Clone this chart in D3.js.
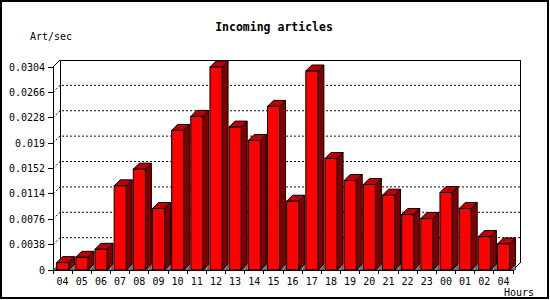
<!DOCTYPE html>
<meta charset="utf-8">
<style>
body { margin: 0; background: #fff; }
text { font-family: "DejaVu Sans Mono", monospace; font-size: 10px; fill: #000; }
.title { font-size: 11.5px; font-weight: bold; }
</style>
<svg width="550" height="300"></svg>
<script src="https://d3js.org/d3.v7.min.js"></script>
<script>

var hours = ["04","05","06","07","08","09","10","11","12","13","14","15",
             "16","17","18","19","20","21","22","23","00","01","02","04"];
var rate = [0.0011, 0.0019, 0.0031, 0.0126, 0.0151, 0.0092, 0.0209, 0.0230,
            0.0304, 0.0214, 0.0194, 0.0245, 0.0103, 0.0298, 0.0167, 0.0134,
            0.0128, 0.0112, 0.0083, 0.0077, 0.0116, 0.0092, 0.0050, 0.0039];
var yTicks = [0, 0.0038, 0.0076, 0.0114, 0.0152, 0.019, 0.0228, 0.0266, 0.0304];

var svg = d3.select("svg"),
  x0Plot = 53, x1Plot = 513, yBase = 270, yTop = 67,
  depth = 7,      // 3d offset of the back wall
  bdepth = 6;     // 3d offset of the bars

var x = d3.scaleBand().domain(d3.range(hours.length)).range([x0Plot, x1Plot]);
var y = d3.scaleLinear().domain([0, 0.0304]).range([yBase, yTop]);

// outer frame
svg.append("rect")
  .attr("x", 1).attr("y", 1).attr("width", 547).attr("height", 297)
  .attr("fill", "none").attr("stroke", "#000").attr("stroke-width", 2);

// back wall
svg.append("path")
  .attr("d", "M" + (x0Plot + depth) + "," + (yBase - depth) +
             "V" + (yTop - depth) + "H" + (x1Plot + depth) + "V" + (yBase - depth))
  .attr("fill", "none").attr("stroke", "#000").attr("shape-rendering", "crispEdges");

// dotted grid, running from the front axis up onto the back wall
svg.append("g").selectAll("path")
  .data(yTicks.filter(function(d) { return d > 0 && d < 0.0304; }))
  .enter().append("path")
    .attr("d", function(d) {
      return "M" + x0Plot + "," + y(d) + "L" + (x0Plot + depth) + "," + (y(d) - depth) +
             "H" + (x1Plot + depth);
    })
    .attr("fill", "none").attr("stroke", "#000").attr("stroke-dasharray", "2,2");

// top corner diagonal
svg.append("line")
  .attr("x1", x0Plot).attr("y1", y(0.0304))
  .attr("x2", x0Plot + depth).attr("y2", y(0.0304) - depth)
  .attr("stroke", "#000");

// floor shadow corners
svg.append("path")
  .attr("d", "M" + x0Plot + "," + yBase + "L" + (x0Plot + depth) + "," + (yBase - depth) +
             "V" + yBase + "Z")
  .attr("fill", "#808080").attr("stroke", "#000").attr("stroke-width", 0.5);
svg.append("path")
  .attr("d", "M" + x1Plot + "," + yBase + "L" + (x1Plot + depth) + "," + (yBase - depth))
  .attr("stroke", "#000");

// bars
var bw = x.bandwidth();
var bars = svg.append("g").selectAll("g")
  .data(rate)
  .enter().append("g");

bars.each(function(v, i) {
  var g = d3.select(this),
    bx0 = x(i) + bw * 0.19,
    bx1 = bx0 + bw * 0.63,
    bt = y(v),
    d = bdepth;
  g.append("path")   // shadow under the side
    .attr("d", "M" + bx1 + "," + yBase + "L" + (bx1 + d) + "," + (yBase - d) + "V" + yBase + "Z")
    .attr("fill", "#808080").attr("stroke", "#000").attr("stroke-width", 0.5);
  g.append("path")   // side
    .attr("d", "M" + bx1 + "," + bt + "L" + (bx1 + d) + "," + (bt - d) +
               "V" + (yBase - d) + "L" + bx1 + "," + yBase + "Z")
    .attr("fill", "#800000").attr("stroke", "#000");
  g.append("path")   // top
    .attr("d", "M" + bx0 + "," + bt + "L" + (bx0 + d) + "," + (bt - d) +
               "H" + (bx1 + d) + "L" + bx1 + "," + bt + "Z")
    .attr("fill", "#c00000").attr("stroke", "#000");
  g.append("rect")   // front
    .attr("x", bx0).attr("y", bt).attr("width", bx1 - bx0).attr("height", yBase - bt)
    .attr("fill", "#ff0000").attr("stroke", "#000");
});

// y axis
svg.append("line")
  .attr("x1", x0Plot).attr("y1", yTop).attr("x2", x0Plot).attr("y2", yBase)
  .attr("stroke", "#000").attr("shape-rendering", "crispEdges");
var yt = svg.append("g").selectAll("g").data(yTicks).enter().append("g");
yt.append("line")
  .attr("x1", x0Plot - 5).attr("x2", x0Plot)
  .attr("y1", function(d) { return y(d); }).attr("y2", function(d) { return y(d); })
  .attr("stroke", "#000").attr("shape-rendering", "crispEdges");
yt.append("text")
  .attr("x", x0Plot - 8).attr("y", function(d) { return y(d) + 3.5; })
  .attr("text-anchor", "end")
  .text(function(d) { return d; });

// x axis
svg.append("line")
  .attr("x1", x0Plot).attr("y1", yBase).attr("x2", x1Plot).attr("y2", yBase)
  .attr("stroke", "#000").attr("shape-rendering", "crispEdges");
svg.append("g").selectAll("line")
  .data(d3.range(hours.length + 1))
  .enter().append("line")
    .attr("x1", function(i) { return x0Plot + i * bw; })
    .attr("x2", function(i) { return x0Plot + i * bw; })
    .attr("y1", yBase).attr("y2", yBase + 4)
    .attr("stroke", "#000").attr("shape-rendering", "crispEdges");
svg.append("g").selectAll("text")
  .data(hours)
  .enter().append("text")
    .attr("x", function(d, i) { return x(i) + bw / 2; })
    .attr("y", 285)
    .attr("text-anchor", "middle")
    .text(function(d) { return d; });

// titles
svg.append("text").attr("class", "title")
  .attr("x", 274).attr("y", 31).attr("text-anchor", "middle")
  .text("Incoming articles");
svg.append("text").attr("x", 30).attr("y", 40).text("Art/sec");
svg.append("text").attr("x", 504).attr("y", 296).text("Hours");

</script>
